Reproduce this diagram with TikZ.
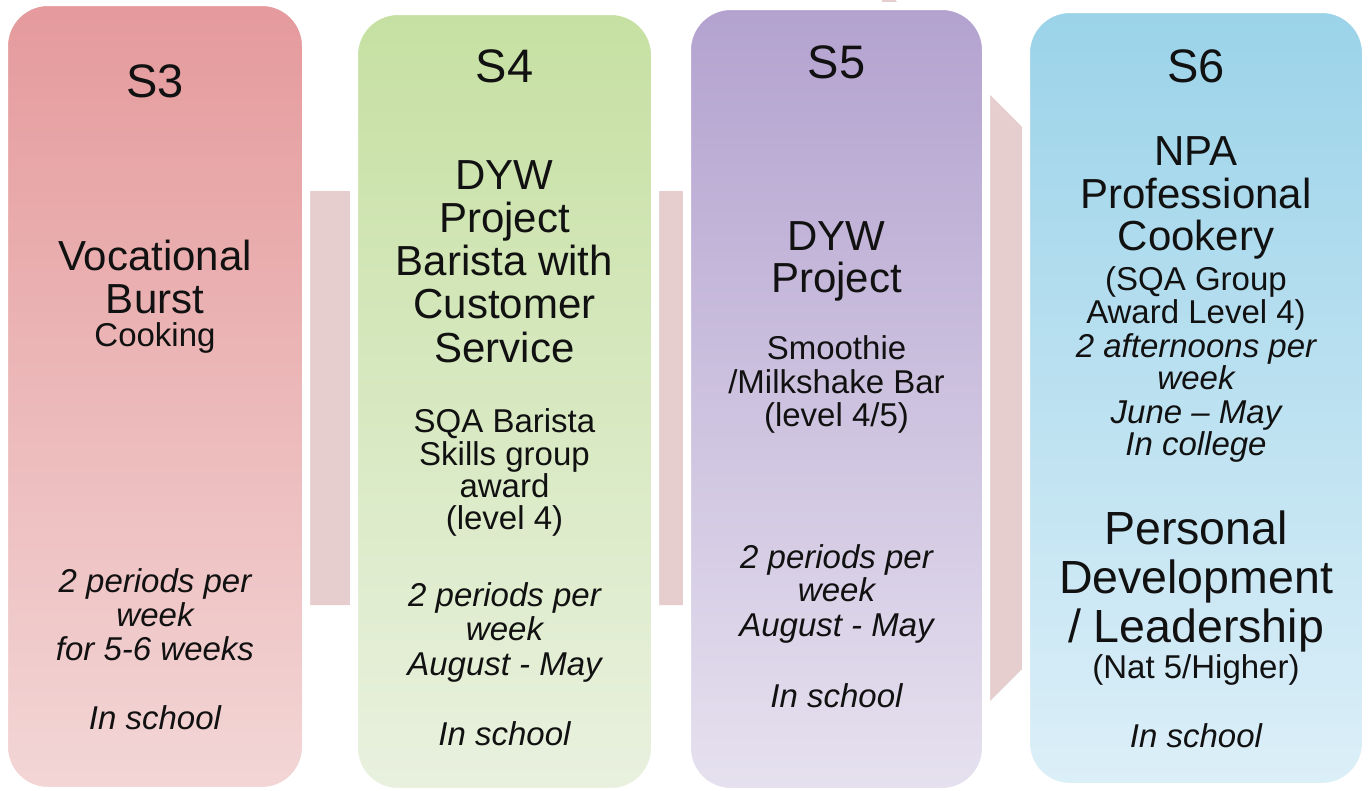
\documentclass[tikz,border=0pt]{standalone}
\usepackage{fontspec}
\setmainfont{Liberation Sans}
\definecolor{arrowc}{HTML}{E6CDCE}
\definecolor{rTop}{HTML}{E59A9C}
\definecolor{rBot}{HTML}{F3D6D6}
\definecolor{gTop}{HTML}{C6E0A2}
\definecolor{gBot}{HTML}{E9F1DF}
\definecolor{pTop}{HTML}{B3A2CF}
\definecolor{pBot}{HTML}{E6E1EF}
\definecolor{bTop}{HTML}{9BD3E9}
\definecolor{bBot}{HTML}{DCEFF8}
\definecolor{txt}{HTML}{111111}
\tikzset{
  card/.style={rounded corners=44pt, draw=white, line width=8pt, inner sep=0pt},
  hd/.style={anchor=base, inner sep=0pt, text=txt, font=\fontsize{47}{50}\selectfont},
  bg/.style={anchor=base, inner sep=0pt, text=txt, font=\fontsize{42}{44}\selectfont},
  bgg/.style={anchor=base, inner sep=0pt, text=txt, font=\fontsize{46.5}{49}\selectfont},
  sm/.style={anchor=base, inner sep=0pt, text=txt, font=\fontsize{33}{34}\selectfont},
  it/.style={anchor=base, inner sep=0pt, text=txt, font=\fontsize{33}{34}\selectfont\itshape},
}
\begin{document}
\begin{tikzpicture}[x=1pt,y=-1pt]
\useasboundingbox (0,0) rectangle (1371,790);
\clip (0,0) rectangle (1371,790);
\fill[white] (0,0) rectangle (1371,790);
% big background arrow
\fill[arrowc] (20,191) -- (882,191) -- (882,-13) -- (1293,398) -- (882,809) -- (882,605) -- (20,605) -- cycle;
% cards
\node[card, top color=rTop, bottom color=rBot, minimum width=302pt, minimum height=789pt] (b3) at (155,396.5) {};
\node[card, top color=gTop, bottom color=gBot, minimum width=301pt, minimum height=781pt] (b4) at (504.5,401.5) {};
\node[card, top color=pTop, bottom color=pBot, minimum width=299pt, minimum height=786pt] (b5) at (836.5,399) {};
\node[card, top color=bTop, bottom color=bBot, minimum width=340pt, minimum height=778pt] (b6) at (1196,398) {};
% S3
\node[hd] (t3h) at (155,97) {S3};
\node[bg] (t3a) at (155,270) {Vocational};
\node[bg] (t3b) at (155,313) {Burst};
\node[sm] (t3c) at (155,346) {Cooking};
\node[it] (t3d) at (155,592) {2 periods per};
\node[it] (t3e) at (155,626) {week};
\node[it] (t3f) at (155,660) {for 5-6 weeks};
\node[it] (t3g) at (155,729) {In school};
% S4
\node[hd] (t4h) at (504.5,82) {S4};
\node[bg] (t4a) at (504.5,189) {DYW};
\node[bg] (t4b) at (504.5,232) {Project};
\node[bg] (t4c) at (504.5,275) {Barista with};
\node[bg] (t4d) at (504.5,318) {Customer};
\node[bg] (t4e) at (504.5,362) {Service};
\node[sm] (t4f) at (504.5,432) {SQA Barista};
\node[sm] (t4g) at (504.5,465) {Skills group};
\node[sm] (t4i) at (504.5,497) {award};
\node[sm] (t4j) at (504.5,529) {(level 4)};
\node[it] (t4k) at (504.5,606) {2 periods per};
\node[it] (t4l) at (504.5,640) {week};
\node[it] (t4m) at (504.5,675) {August - May};
\node[it] (t4n) at (504.5,745) {In school};
% S5
\node[hd] (t5h) at (836.5,78) {S5};
\node[bg] (t5a) at (836.5,250) {DYW};
\node[bg] (t5b) at (836.5,292) {Project};
\node[sm] (t5c) at (836.5,359) {Smoothie};
\node[sm] (t5d) at (836.5,393) {/Milkshake Bar};
\node[sm] (t5e) at (836.5,426) {(level 4/5)};
\node[it] (t5f) at (836.5,568) {2 periods per};
\node[it] (t5g) at (836.5,601) {week};
\node[it] (t5i) at (836.5,636) {August - May};
\node[it] (t5j) at (836.5,707) {In school};
% S6
\node[hd] (t6h) at (1196,82) {S6};
\node[bg] (t6a) at (1196,165) {NPA};
\node[bg] (t6b) at (1196,208) {Professional};
\node[bg] (t6c) at (1196,250) {Cookery};
\node[sm] (t6d) at (1196,290) {(SQA Group};
\node[sm] (t6e) at (1196,323) {Award Level 4)};
\node[it] (t6f) at (1196,357) {2 afternoons per};
\node[it] (t6g) at (1196,389) {week};
\node[it] (t6i) at (1196,423) {June – May};
\node[it] (t6j) at (1196,455) {In college};
\node[bgg] (t6k) at (1196,544) {Personal};
\node[bgg] (t6l) at (1196,593) {Development};
\node[bgg] (t6m) at (1196,642) {/ Leadership};
\node[sm] (t6n) at (1196,678) {(Nat 5/Higher)};
\node[it] (t6o) at (1196,747) {In school};
\end{tikzpicture}
\end{document}
